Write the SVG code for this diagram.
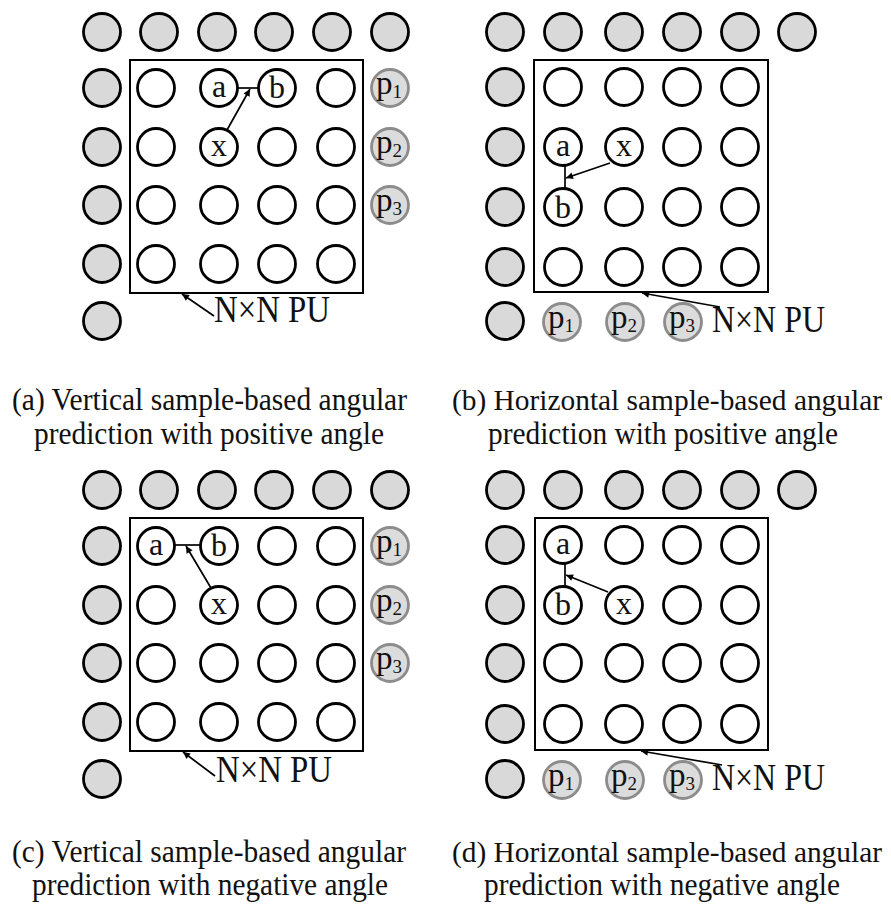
<svg xmlns="http://www.w3.org/2000/svg" width="891" height="904" viewBox="0 0 891 904">
<style>
.g{fill:#d9d9d9;stroke:#000;stroke-width:2.8}
.w{fill:#fff;stroke:#000;stroke-width:2.8}
.p{fill:#dcdcdc;stroke:#8c8c8c;stroke-width:2.8}
.box{fill:none;stroke:#000;stroke-width:2}
.ln{stroke:#000;stroke-width:1.7;fill:none}
.ar{stroke:#000;stroke-width:1.7;fill:none;marker-end:url(#ah)}
text{font-family:"Liberation Serif","Times New Roman",serif;fill:#111}
.lb{font-size:32px;text-anchor:middle}
.pl{font-size:33px}
.sub{font-size:19px}
.pu{font-size:37px}
.cap{font-size:32px}
.capw{font-size:29.4px}
</style>
<defs>
<marker id="ah" viewBox="0 0 10 10" refX="10" refY="5" markerWidth="9" markerHeight="7" orient="auto" markerUnits="userSpaceOnUse"><path d="M0,0 L10,5 L0,10 z" fill="#000"/></marker>
</defs>

<!-- Panel (a) -->
<g id="panel-a">
<g id="a-ref"><circle class="g" cx="102" cy="32" r="18.5"/><circle class="g" cx="159" cy="32" r="18.5"/><circle class="g" cx="217" cy="32" r="18.5"/><circle class="g" cx="274" cy="32" r="18.5"/><circle class="g" cx="332" cy="32" r="18.5"/><circle class="g" cx="390" cy="32" r="18.5"/><circle class="g" cx="102" cy="88" r="18.5"/><circle class="g" cx="102" cy="147" r="18.5"/><circle class="g" cx="102" cy="205" r="18.5"/><circle class="g" cx="102" cy="264" r="18.5"/><circle class="g" cx="102" cy="321" r="18.5"/></g>
<g id="a-pu"><rect class="box" x="130" y="60" width="233" height="233"/></g>
<g id="a-cells"><circle class="w" cx="156" cy="88" r="18.5"/><circle class="w" cx="336" cy="88" r="18.5"/><circle class="w" cx="156" cy="147" r="18.5"/><circle class="w" cx="277" cy="147" r="18.5"/><circle class="w" cx="336" cy="147" r="18.5"/><circle class="w" cx="156" cy="205" r="18.5"/><circle class="w" cx="219" cy="205" r="18.5"/><circle class="w" cx="277" cy="205" r="18.5"/><circle class="w" cx="336" cy="205" r="18.5"/><circle class="w" cx="156" cy="264" r="18.5"/><circle class="w" cx="219" cy="264" r="18.5"/><circle class="w" cx="277" cy="264" r="18.5"/><circle class="w" cx="336" cy="264" r="18.5"/></g>
<g id="a-node-a"><circle class="w" cx="219" cy="88" r="18.5"/><text class="lb" x="219" y="97">a</text></g>
<g id="a-node-b"><circle class="w" cx="277" cy="88" r="18.5"/><text class="lb" x="277" y="98">b</text></g>
<g id="a-node-x"><circle class="w" cx="219" cy="147" r="18.5"/><text class="lb" x="219" y="156">x</text></g>
<g id="a-p1"><circle class="p" cx="390" cy="88" r="18.5"/><text class="pl" x="376" y="94">p<tspan class="sub" dy="4">1</tspan></text></g>
<g id="a-p2"><circle class="p" cx="390" cy="147" r="18.5"/><text class="pl" x="376" y="153">p<tspan class="sub" dy="4">2</tspan></text></g>
<g id="a-p3"><circle class="p" cx="390" cy="205" r="18.5"/><text class="pl" x="376" y="211">p<tspan class="sub" dy="4">3</tspan></text></g>
<g id="a-label"><text class="pu" x="214" y="322" textLength="116" lengthAdjust="spacingAndGlyphs">N×N PU</text></g>
</g>

<!-- Panel (b) -->
<g id="panel-b">
<g id="b-ref"><circle class="g" cx="505" cy="32" r="18.5"/><circle class="g" cx="563" cy="32" r="18.5"/><circle class="g" cx="624" cy="32" r="18.5"/><circle class="g" cx="682" cy="32" r="18.5"/><circle class="g" cx="740" cy="32" r="18.5"/><circle class="g" cx="797" cy="32" r="18.5"/><circle class="g" cx="505" cy="87" r="18.5"/><circle class="g" cx="505" cy="147" r="18.5"/><circle class="g" cx="505" cy="207" r="18.5"/><circle class="g" cx="505" cy="267" r="18.5"/><circle class="g" cx="505" cy="321" r="18.5"/></g>
<g id="b-pu"><rect class="box" x="534" y="60" width="234" height="232"/></g>
<g id="b-cells"><circle class="w" cx="563" cy="87" r="18.5"/><circle class="w" cx="624" cy="87" r="18.5"/><circle class="w" cx="682" cy="87" r="18.5"/><circle class="w" cx="740" cy="87" r="18.5"/><circle class="w" cx="682" cy="147" r="18.5"/><circle class="w" cx="740" cy="147" r="18.5"/><circle class="w" cx="624" cy="207" r="18.5"/><circle class="w" cx="682" cy="207" r="18.5"/><circle class="w" cx="740" cy="207" r="18.5"/><circle class="w" cx="563" cy="267" r="18.5"/><circle class="w" cx="624" cy="267" r="18.5"/><circle class="w" cx="682" cy="267" r="18.5"/><circle class="w" cx="740" cy="267" r="18.5"/></g>
<g id="b-node-a"><circle class="w" cx="563" cy="147" r="18.5"/><text class="lb" x="563" y="156">a</text></g>
<g id="b-node-x"><circle class="w" cx="624" cy="147" r="18.5"/><text class="lb" x="624" y="156">x</text></g>
<g id="b-node-b"><circle class="w" cx="563" cy="207" r="18.5"/><text class="lb" x="563" y="218">b</text></g>
<g id="b-p1"><circle class="p" cx="562" cy="322" r="18.5"/><text class="pl" x="548" y="328">p<tspan class="sub" dy="4">1</tspan></text></g>
<g id="b-p2"><circle class="p" cx="625" cy="322" r="18.5"/><text class="pl" x="611" y="328">p<tspan class="sub" dy="4">2</tspan></text></g>
<g id="b-p3"><circle class="p" cx="683" cy="322" r="18.5"/><text class="pl" x="669" y="328">p<tspan class="sub" dy="4">3</tspan></text></g>
<g id="b-label"><text class="pu" x="712" y="332" textLength="113" lengthAdjust="spacingAndGlyphs">N×N PU</text></g>
</g>

<!-- Panel (c) -->
<g id="panel-c">
<g id="c-ref"><circle class="g" cx="102" cy="490" r="18.5"/><circle class="g" cx="159" cy="490" r="18.5"/><circle class="g" cx="217" cy="490" r="18.5"/><circle class="g" cx="274" cy="490" r="18.5"/><circle class="g" cx="332" cy="490" r="18.5"/><circle class="g" cx="390" cy="490" r="18.5"/><circle class="g" cx="102" cy="546" r="18.5"/><circle class="g" cx="102" cy="605" r="18.5"/><circle class="g" cx="102" cy="663" r="18.5"/><circle class="g" cx="102" cy="722" r="18.5"/><circle class="g" cx="102" cy="779" r="18.5"/></g>
<g id="c-pu"><rect class="box" x="130" y="518" width="233" height="233"/></g>
<g id="c-cells"><circle class="w" cx="277" cy="546" r="18.5"/><circle class="w" cx="336" cy="546" r="18.5"/><circle class="w" cx="156" cy="605" r="18.5"/><circle class="w" cx="277" cy="605" r="18.5"/><circle class="w" cx="336" cy="605" r="18.5"/><circle class="w" cx="156" cy="663" r="18.5"/><circle class="w" cx="219" cy="663" r="18.5"/><circle class="w" cx="277" cy="663" r="18.5"/><circle class="w" cx="336" cy="663" r="18.5"/><circle class="w" cx="156" cy="722" r="18.5"/><circle class="w" cx="219" cy="722" r="18.5"/><circle class="w" cx="277" cy="722" r="18.5"/><circle class="w" cx="336" cy="722" r="18.5"/></g>
<g id="c-node-a"><circle class="w" cx="156" cy="546" r="18.5"/><text class="lb" x="156" y="555">a</text></g>
<g id="c-node-b"><circle class="w" cx="219" cy="546" r="18.5"/><text class="lb" x="219" y="556">b</text></g>
<g id="c-node-x"><circle class="w" cx="219" cy="605" r="18.5"/><text class="lb" x="219" y="614">x</text></g>
<g id="c-p1"><circle class="p" cx="390" cy="546" r="18.5"/><text class="pl" x="376" y="552">p<tspan class="sub" dy="4">1</tspan></text></g>
<g id="c-p2"><circle class="p" cx="390" cy="605" r="18.5"/><text class="pl" x="376" y="611">p<tspan class="sub" dy="4">2</tspan></text></g>
<g id="c-p3"><circle class="p" cx="390" cy="663" r="18.5"/><text class="pl" x="376" y="669">p<tspan class="sub" dy="4">3</tspan></text></g>
<g id="c-label"><text class="pu" x="216" y="782" textLength="116" lengthAdjust="spacingAndGlyphs">N×N PU</text></g>
</g>

<!-- Panel (d) -->
<g id="panel-d">
<g id="d-ref"><circle class="g" cx="505" cy="490" r="18.5"/><circle class="g" cx="563" cy="490" r="18.5"/><circle class="g" cx="624" cy="490" r="18.5"/><circle class="g" cx="682" cy="490" r="18.5"/><circle class="g" cx="740" cy="490" r="18.5"/><circle class="g" cx="797" cy="490" r="18.5"/><circle class="g" cx="505" cy="545" r="18.5"/><circle class="g" cx="505" cy="605" r="18.5"/><circle class="g" cx="505" cy="663" r="18.5"/><circle class="g" cx="505" cy="724" r="18.5"/><circle class="g" cx="505" cy="779" r="18.5"/></g>
<g id="d-pu"><rect class="box" x="535" y="518" width="233" height="232"/></g>
<g id="d-cells"><circle class="w" cx="624" cy="545" r="18.5"/><circle class="w" cx="682" cy="545" r="18.5"/><circle class="w" cx="740" cy="545" r="18.5"/><circle class="w" cx="682" cy="605" r="18.5"/><circle class="w" cx="740" cy="605" r="18.5"/><circle class="w" cx="563" cy="663" r="18.5"/><circle class="w" cx="624" cy="663" r="18.5"/><circle class="w" cx="682" cy="663" r="18.5"/><circle class="w" cx="740" cy="663" r="18.5"/><circle class="w" cx="563" cy="724" r="18.5"/><circle class="w" cx="624" cy="724" r="18.5"/><circle class="w" cx="682" cy="724" r="18.5"/><circle class="w" cx="740" cy="724" r="18.5"/></g>
<g id="d-node-a"><circle class="w" cx="563" cy="545" r="18.5"/><text class="lb" x="563" y="554">a</text></g>
<g id="d-node-b"><circle class="w" cx="563" cy="605" r="18.5"/><text class="lb" x="563" y="615">b</text></g>
<g id="d-node-x"><circle class="w" cx="624" cy="605" r="18.5"/><text class="lb" x="624" y="614">x</text></g>
<g id="d-p1"><circle class="p" cx="562" cy="780" r="18.5"/><text class="pl" x="548" y="786">p<tspan class="sub" dy="4">1</tspan></text></g>
<g id="d-p2"><circle class="p" cx="625" cy="780" r="18.5"/><text class="pl" x="611" y="786">p<tspan class="sub" dy="4">2</tspan></text></g>
<g id="d-p3"><circle class="p" cx="683" cy="780" r="18.5"/><text class="pl" x="669" y="786">p<tspan class="sub" dy="4">3</tspan></text></g>
<g id="d-label"><text class="pu" x="712" y="790" textLength="113" lengthAdjust="spacingAndGlyphs">N×N PU</text></g>
</g>

<!-- Connectors -->
<g id="connectors">
<line class="ln" x1="237" y1="88" x2="259" y2="88"/>
<line class="ar" x1="227" y1="130" x2="250" y2="89"/>
<line class="ar" x1="214" y1="316" x2="182" y2="294"/>
<line class="ln" x1="565" y1="165" x2="565" y2="189"/>
<line class="ar" x1="610" y1="163" x2="566" y2="178"/>
<line class="ar" x1="720" y1="307" x2="642" y2="293"/>
<line class="ln" x1="174" y1="545" x2="201" y2="545"/>
<line class="ar" x1="211" y1="588" x2="186" y2="546"/>
<line class="ar" x1="215" y1="776" x2="183" y2="752"/>
<line class="ln" x1="565" y1="563" x2="565" y2="587"/>
<line class="ar" x1="608" y1="592" x2="566" y2="575"/>
<line class="ar" x1="722" y1="765" x2="641" y2="751"/>
</g>

<!-- Captions -->
<g id="captions">
<text class="cap" x="12" y="410" textLength="395" lengthAdjust="spacingAndGlyphs">(a) Vertical sample-based angular</text>
<text class="cap" x="34" y="444" textLength="350" lengthAdjust="spacingAndGlyphs">prediction with positive angle</text>
<text class="capw" x="452" y="410" textLength="430" lengthAdjust="spacingAndGlyphs">(b) Horizontal sample-based angular</text>
<text class="cap" x="488" y="444" textLength="350" lengthAdjust="spacingAndGlyphs">prediction with positive angle</text>
<text class="cap" x="12" y="862" textLength="394" lengthAdjust="spacingAndGlyphs">(c) Vertical sample-based angular</text>
<text class="cap" x="32" y="895" textLength="356" lengthAdjust="spacingAndGlyphs">prediction with negative angle</text>
<text class="capw" x="452" y="862" textLength="430" lengthAdjust="spacingAndGlyphs">(d) Horizontal sample-based angular</text>
<text class="cap" x="484" y="895" textLength="356" lengthAdjust="spacingAndGlyphs">prediction with negative angle</text>
</g>
</svg>
